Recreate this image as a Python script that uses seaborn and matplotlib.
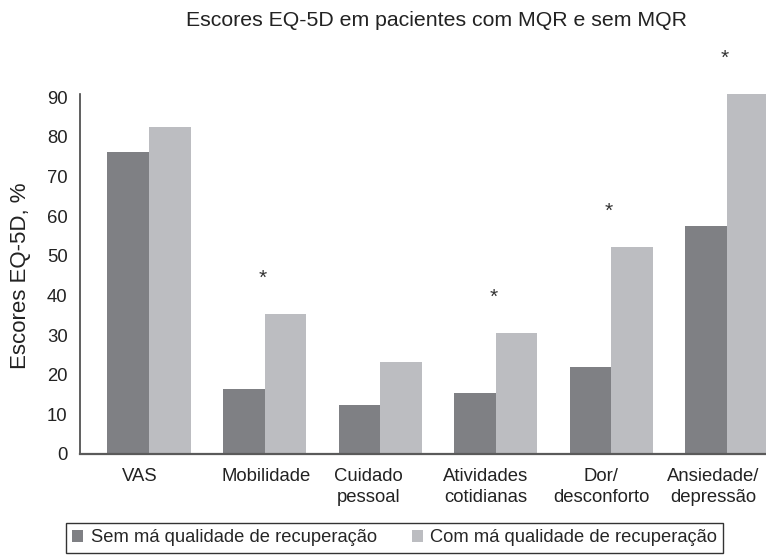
import numpy as np
import pandas as pd
import matplotlib
matplotlib.use("Agg")
import matplotlib.pyplot as plt
import matplotlib.transforms as mtransforms
import seaborn as sns

# values (%)
categories = ["VAS", "Mobilidade", "Cuidado\npessoal", "Atividades\ncotidianas",
              "Dor/\ndesconforto", "Ansiedade/\ndepressão"]
sem_mqr = [76.2, 16.3, 12.3, 15.3, 22.0, 57.4]
com_mqr = [82.5, 35.3, 23.1, 30.6, 52.1, 90.7]
significant = [False, True, False, True, True, True]
groups = ["Sem má qualidade de recuperação", "Com má qualidade de recuperação"]
colors = ["#7f8084", "#bcbdc1"]

df = pd.DataFrame({
    "categoria": categories * 2,
    "grupo": [groups[0]] * len(categories) + [groups[1]] * len(categories),
    "valor": sem_mqr + com_mqr,
})

sns.set_theme(style="white")
plt.rcParams["font.family"] = ["Liberation Sans", "DejaVu Sans"]

fig = plt.figure(figsize=(7.66, 5.56), dpi=100)
ax = fig.add_axes([80 / 766, 1 - 454 / 556, 1 - 80 / 766, (454 - 94) / 556])

sns.barplot(data=df, x="categoria", y="valor", hue="grupo", order=categories,
            hue_order=groups, palette=colors, width=0.72, saturation=1,
            linewidth=0, ax=ax)

ax.set_ylim(0, 90.8)
ax.set_xlim(-0.597, 5.337)
ax.set_yticks(np.arange(0, 91, 10))
ax.set_xlabel("")
ax.set_ylabel("")
ax.tick_params(axis="y", length=0, pad=9, labelsize=13.3, colors="#222222")
ax.tick_params(axis="x", length=0, pad=10, labelsize=13.3, colors="#222222")

# the labels in the original sit a little left of the group centres
label_shift_px = [-9, 2, -12, -10, -10, -14]
for lbl, dx in zip(ax.get_xticklabels(), label_shift_px):
    lbl.set_linespacing(1.3)
    lbl.set_transform(lbl.get_transform() +
                      mtransforms.ScaledTranslation(dx / 100, 0, fig.dpi_scale_trans))

sns.despine(ax=ax)
ax.spines["left"].set_color("#444444")
ax.spines["left"].set_linewidth(1.2)
ax.spines["bottom"].set_color("#5a5a5a")
ax.spines["bottom"].set_linewidth(1.6)

# significance markers above the "com MQR" bars
for i, (v, sig) in enumerate(zip(com_mqr, significant)):
    if sig:
        ax.text(i - 0.02, v + 9, "*", ha="center", va="center", fontsize=15,
                color="#333333", clip_on=False)

fig.text(437 / 766, 1 - 20 / 556, "Escores EQ-5D em pacientes com MQR e sem MQR",
         ha="center", va="center", fontsize=15.3, color="#222222")
fig.text(21 / 766, 1 - 276 / 556, "Escores EQ-5D, %", rotation=90,
         ha="center", va="center", fontsize=16, color="#222222")

handles, labels = ax.get_legend_handles_labels()
ax.get_legend().remove()
fig.legend(handles, labels, ncol=2, loc="upper left",
           bbox_to_anchor=(66 / 766, 1 - 523 / 556), borderaxespad=0,
           frameon=True, fancybox=False, edgecolor="#333333", framealpha=1,
           handlelength=0.6, handleheight=0.6, handletextpad=0.4,
           columnspacing=1.9, borderpad=0.35, fontsize=13.2)

fig.savefig("out.png", dpi=100)
